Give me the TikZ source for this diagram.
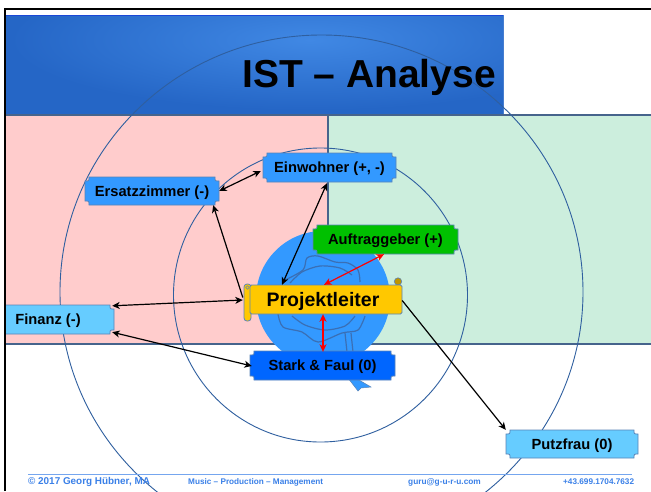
\documentclass[tikz,border=0pt]{standalone}
\usepackage{fontspec}
\setmainfont{Liberation Sans}
\usetikzlibrary{arrows.meta,calc}
\definecolor{frameblue}{HTML}{46648C}
\definecolor{ringblue}{HTML}{2F5F9F}
\definecolor{pinkbg}{HTML}{FFCCCC}
\definecolor{greenbg}{HTML}{CCEEDD}
\definecolor{midblue}{HTML}{3399FF}
\definecolor{lightblue}{HTML}{66CCFF}
\definecolor{deepblue}{HTML}{0066FF}
\definecolor{grantgreen}{HTML}{00C000}
\definecolor{gold}{HTML}{FFC800}
\definecolor{sealline}{HTML}{3A6FB5}
\definecolor{edgeblue}{HTML}{5A84B8}
\definecolor{footblue}{HTML}{3A80E8}
\definecolor{bandtop}{HTML}{4088E4}
\definecolor{bandbot}{HTML}{2566C6}
\tikzset{
  ring/.style={draw=ringblue,line width=0.9pt},
  seal/.style={draw=sealline,line width=1.2pt},
  label/.style={inner sep=0pt,font=\bfseries,text depth=0pt},
  link/.style={line width=1.2pt,{Stealth[length=7.5pt,width=7pt,inset=2.2pt]}-{Stealth[length=7.5pt,width=7pt,inset=2.2pt]}},
  linkone/.style={line width=1.2pt,-{Stealth[length=7.5pt,width=7pt,inset=2.2pt]}},
  redlink/.style={link,draw=red,color=red},
  foot/.style={inner sep=0pt,font=\bfseries,text=footblue,anchor=base west}
}
% name, x1, y1, x2, y2, fill, font size, text
\newcommand{\plaque}[8]{%
  \path[fill=#6,draw=edgeblue,line width=0.8pt]
    (#2+4,#3) -- (#4-4,#3) .. controls (#4-4,#3+4) .. (#4,#3+4)
    -- (#4,#5-4) .. controls (#4-4,#5-4) .. (#4-4,#5)
    -- (#2+4,#5) .. controls (#2+4,#5-4) .. (#2,#5-4)
    -- (#2,#3+4) .. controls (#2+4,#3+4) .. (#2+4,#3) -- cycle;
  \node[label,minimum width={(#4-(#2))*1pt},minimum height={(#5-(#3))*1pt}] (#1)
    at ({(#2+#4)/2},{(#3+#5)/2}) {\fontsize{#7}{#7}\selectfont #8};
}
\begin{document}
\begin{tikzpicture}[x=1pt,y=-1pt]
\useasboundingbox (0,0) rectangle (651,491);
\fill[white] (0,0) rectangle (651,491);
% background panels
\fill[pinkbg] (6,115) rectangle (328,344);
\fill[greenbg] (328,115) rectangle (651,344);
\draw[frameblue,line width=2pt] (6,115) -- (651,115);
\draw[frameblue,line width=2pt] (6,344) -- (651,344);
\draw[frameblue,line width=2pt] (328,115) -- (328,344);
% title band
\fill[bandbot] (6,15) rectangle (503,114);
\begin{scope}
  \clip (6,15) rectangle (503,114);
  \shade[inner color=bandtop,outer color=bandbot] (310,40) ellipse[x radius=300,y radius=70];
\end{scope}
\draw[bandbot!70!blue,line width=0.8pt] (6,15) -- (503,15);
\draw[bandbot!85!white,line width=0.6pt] (503,15) -- (503,114);
% seal
\fill[midblue,draw=edgeblue,line width=0.5pt] (348,378) -- (359,380) -- (371,387) -- (361,388) -- (358,391) -- cycle;
\fill[midblue] (323,298) circle[radius=67];
\draw[seal] plot[smooth] coordinates {(285,280) (303,270) (307,258) (318,256) (335,262) (348,263) (358,270) (360,282)};
\draw[seal] plot[smooth] coordinates {(290,283) (302,272) (320,266) (340,268) (352,275)};
\draw[seal] plot[smooth] coordinates {(278,314) (283,327) (302,332) (318,342) (342,333) (358,330) (365,316)};
\draw[seal] plot[smooth] coordinates {(292,316) (305,325) (325,330) (345,326) (355,316)};
\draw[seal] (345,333) -- (347,352);
\draw[seal] (351,333) -- (353,352);
% circles
\draw[ring] (321.5,292) ellipse[x radius=261.5,y radius=257];
\draw[ring] (320.5,295) circle[radius=147];
% scroll
\draw[fill=gold,draw=edgeblue,line width=0.8pt,rounded corners=3pt] (244,284) rectangle (251,321);
\draw[fill=gold!75!black,draw=edgeblue,line width=0.6pt] (398,281.5) circle[radius=3.7];
\draw[fill=gold,draw=edgeblue,line width=0.8pt,rounded corners=1.5pt] (250,285) rectangle (402,314);
\draw[fill=gold,draw=edgeblue,line width=0.6pt] (247.5,287.5) circle[radius=1.8];
\node[label,minimum width=158pt,minimum height=29pt] (proj) at (323,299.5) {\fontsize{19.5}{19.5}\selectfont Projektleiter};
% plaques
\plaque{ersatz}{85}{177}{219}{205}{midblue}{14.7}{Ersatzzimmer (-)}
\plaque{einw}{263}{153}{396}{182}{midblue}{14.7}{Einwohner (+, -)}
\plaque{auft}{313}{225}{458}{254}{grantgreen}{14.7}{Auftraggeber (+)}
\plaque{stark}{250}{351}{395}{380}{deepblue}{14.7}{Stark \& Faul (0)}
\plaque{finanz}{0}{305}{114}{334}{lightblue}{14.7}{\hspace*{-18pt}Finanz (-)}
\plaque{putz}{506}{430}{638}{458}{lightblue}{14.7}{Putzfrau (0)}
% title
\node[label,anchor=base west] (title) at (242,87) {\fontsize{39}{39}\selectfont IST – Analyse};
% connectors
\draw[link] (ersatz.east) -- ([shift={(-2,3.5)}]einw.west);
\draw[linkone] ([shift={(-1,-2)}]proj.west) -- ([shift={(-6,0)}]ersatz.south east);
\draw[link] ([shift={(-2.5,1)}]einw.south) -- ([shift={(-41,0)}]proj.north);
\draw[link] ([shift={(-2,1)}]finanz.north east) -- ([shift={(-1,0.5)}]proj.west);
\draw[link] ([shift={(-2,-2)}]finanz.south east) -- ([shift={(2,0.5)}]stark.west);
\draw[linkone] ([shift={(0,1)}]proj.east) -- (putz.north west);
\draw[redlink] ([shift={(-1.5,0)}]auft.south) -- ([shift={(1,0)}]proj.north);
\draw[redlink] (proj.south) -- ([shift={(0.5,1)}]stark.north);
% footer
\draw[footblue!70!white,line width=0.8pt] (28,474) -- (632,474);
\node[foot] (foota) at (28,484) {\fontsize{9.9}{10}\selectfont © 2017 Georg Hübner, MA};
\node[foot] (footb) at (188,484) {\fontsize{8.2}{9}\selectfont Music – Production – Management};
\node[foot] (footc) at (408,484) {\fontsize{8.3}{9}\selectfont guru@g-u-r-u.com};
\node[foot] (footd) at (563,484) {\fontsize{8.2}{9}\selectfont +43.699.1704.7632};
% frame
\fill[white] (0,0) rectangle (4,491);
\fill[white] (0,0) rectangle (651,7);
\draw[black,line width=2pt] (5.2,491) -- (5.2,8.5) -- (651,8.5);
\end{tikzpicture}
\end{document}
